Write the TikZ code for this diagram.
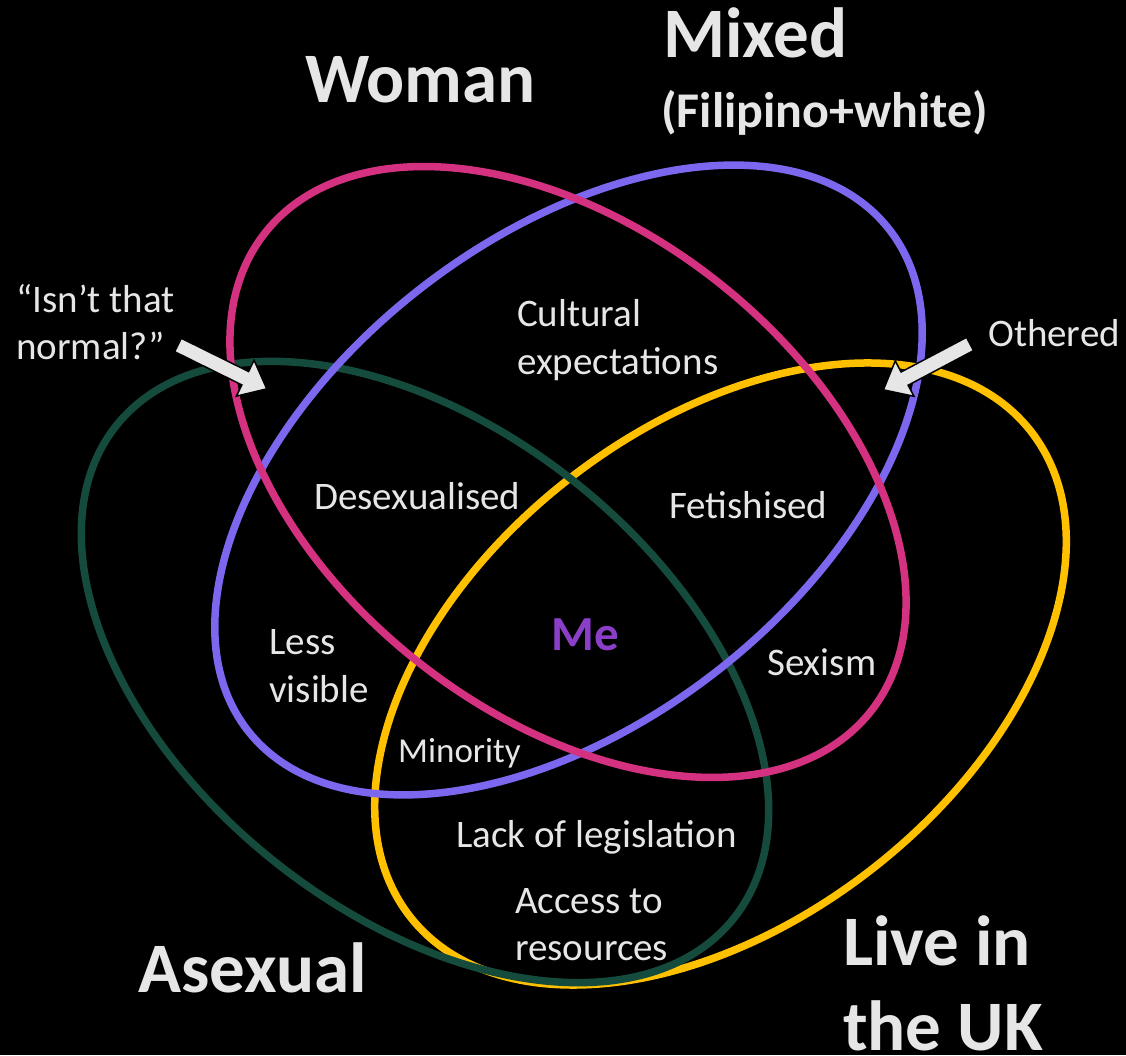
\documentclass[tikz,border=0pt]{standalone}
\usepackage{fontspec}
\setmainfont{Carlito}
\definecolor{txt}{HTML}{E6E6E6}
\definecolor{pinkc}{HTML}{D43280}
\definecolor{bluec}{HTML}{7B68EE}
\definecolor{greenc}{HTML}{154B3C}
\definecolor{yellowc}{HTML}{FFC000}
\definecolor{mec}{HTML}{8B3FC8}
\begin{document}
\begin{tikzpicture}[x=1pt,y=1pt,
  ring/.style={line width=7.5pt},
  lbl/.style={text=txt, font=\fontsize{39}{46}\selectfont, inner sep=0pt, anchor=base west},
  big/.style={text=txt, font=\fontsize{71}{85}\selectfont\bfseries, inner sep=0pt, anchor=base west},
  blockarrow/.style={fill=txt, draw=black, line width=1.5pt, line join=miter}]
\fill[black] (0,0) rectangle (1126,1055);
\useasboundingbox (0,0) rectangle (1126,1055);

% ellipses
\draw[ring, yellowc, rotate around={38:(720.5,381)}] (720.5,381) ellipse [x radius=394, y radius=247];
\draw[ring, greenc, rotate around={-38.6:(425,383)}] (425,383) ellipse [x radius=395, y radius=242];
\draw[ring, bluec, rotate around={38:(568.5,575)}] (568.5,575) ellipse [x radius=407, y radius=242];
\draw[ring, pinkc, rotate around={-38.3:(568,583)}] (568,583) ellipse [x radius=386, y radius=242];

% block arrows
\coordinate (arrL) at (178,710);
\coordinate (arrR) at (970,711);
\begin{scope}[shift={(arrL)}, rotate=-26.3]
  \filldraw[blockarrow] (0,-7.5)--(75,-7.5)--(75,-20)--(99,0)--(75,20)--(75,7.5)--(0,7.5)--cycle;
\end{scope}
\begin{scope}[shift={(arrR)}, rotate=207.9]
  \filldraw[blockarrow] (0,-7.5)--(74,-7.5)--(74,-20)--(98,0)--(74,20)--(74,7.5)--(0,7.5)--cycle;
\end{scope}

% category labels
\node[big] (woman) at (305,952) {Woman};
\node[big] (mixed) at (663,997) {Mixed};
\node[text=txt, font=\fontsize{50}{58}\selectfont\bfseries, inner sep=0pt, anchor=base west] (filipino) at (661,927) {(Filipino+white)};
\node[big] (asexual) at (138,63) {Asexual};
\node[big] (live1) at (843,90) {Live in};
\node[big] (live2) at (843,5) {the UK};

% region labels
\node[lbl] (isnt1) at (16,742) {“Isn’t that};
\node[lbl] (isnt2) at (16,695) {normal?”};
\node[lbl] (othered) at (988,708) {Othered};
\node[lbl] (cult1) at (517,728) {Cultural};
\node[lbl] (cult2) at (517,680) {expectations};
\node[lbl] (desex) at (314,545) {Desexualised};
\node[lbl] (fetish) at (669,536) {Fetishised};
\node[inner sep=0pt, anchor=base west, text=mec, font=\fontsize{49}{58}\selectfont\bfseries] (me) at (551,404) {Me};
\node[lbl] (sexism) at (767,379) {Sexism};
\node[lbl] (less1) at (269,400) {Less};
\node[lbl] (less2) at (269,352) {visible};
\node[lbl, font=\fontsize{35}{42}\selectfont] (minority) at (398,293) {Minority};
\node[lbl] (lack) at (456,208) {Lack of legislation};
\node[lbl] (access1) at (515,142) {Access to};
\node[lbl] (access2) at (515,95) {resources};
\end{tikzpicture}
\end{document}
